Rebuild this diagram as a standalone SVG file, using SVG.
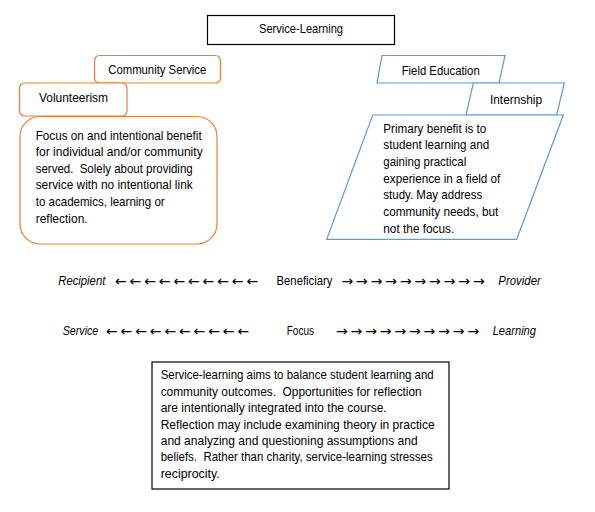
<svg xmlns="http://www.w3.org/2000/svg" width="595" height="512" viewBox="0 0 595 512">
<style>
text{font-family:"Liberation Sans","DejaVu Sans",sans-serif;font-size:12.1px;fill:#000}
.c{text-anchor:middle}
.i{font-style:italic}
.orange{fill:#fff;stroke:#ED7D31;stroke-width:1.2}
.blue{fill:#fff;stroke:#5B9BD5;stroke-width:1.2}
.black{fill:#fff;stroke:#000;stroke-width:1.2}
.arr{font-family:"DejaVu Sans","Liberation Sans",sans-serif;font-size:14px}
</style>
<rect width="595" height="512" fill="#fff"/>
<g id="service-learning">
<rect class="black" x="207.5" y="15.5" width="187" height="29"/>
<text class="c" x="301" y="32.6" textLength="84" lengthAdjust="spacingAndGlyphs">Service-Learning</text>
</g>
<g id="community-service">
<rect class="orange" x="94.5" y="55.5" width="126" height="27.5" rx="5"/>
<text x="108.3" y="74.3" textLength="98" lengthAdjust="spacingAndGlyphs">Community Service</text>
</g>
<g id="volunteerism">
<rect class="orange" x="19.5" y="83" width="107.5" height="33" rx="5"/>
<text x="39" y="101.6" textLength="69" lengthAdjust="spacingAndGlyphs">Volunteerism</text>
</g>
<g id="volunteerism-desc">
<rect class="orange" x="20" y="116.5" width="197" height="127.5" rx="20"/>
<text x="35.7" y="139.5" textLength="166" lengthAdjust="spacingAndGlyphs">Focus on and intentional benefit</text>
<text x="35.7" y="156.1" textLength="167" lengthAdjust="spacingAndGlyphs">for individual and/or community</text>
<text x="35.7" y="172.7" textLength="157" lengthAdjust="spacingAndGlyphs" xml:space="preserve">served.  Solely about providing</text>
<text x="35.7" y="189.3" textLength="157" lengthAdjust="spacingAndGlyphs">service with no intentional link</text>
<text x="35.7" y="205.9" textLength="129" lengthAdjust="spacingAndGlyphs">to academics, learning or</text>
<text x="35.7" y="222.5" textLength="52" lengthAdjust="spacingAndGlyphs">reflection.</text>
</g>
<g id="field-education">
<polygon class="blue" points="382,55.5 505,55.5 499,83 377,83"/>
<text x="401.7" y="75.3" textLength="78" lengthAdjust="spacingAndGlyphs">Field Education</text>
</g>
<g id="internship">
<polygon class="blue" points="473.3,83 564.3,83 556.7,115 466,115"/>
<text x="490" y="104.3" textLength="52" lengthAdjust="spacingAndGlyphs">Internship</text>
</g>
<g id="internship-desc">
<polygon class="blue" points="372.7,115 563.3,115 516.7,239.3 326.7,239.3"/>
<text x="383.3" y="132.6" textLength="103" lengthAdjust="spacingAndGlyphs">Primary benefit is to</text>
<text x="383.3" y="149.3" textLength="106" lengthAdjust="spacingAndGlyphs">student learning and</text>
<text x="383.3" y="165.9" textLength="83" lengthAdjust="spacingAndGlyphs">gaining practical</text>
<text x="383.3" y="182.6" textLength="117" lengthAdjust="spacingAndGlyphs">experience in a field of</text>
<text x="383.3" y="199.2" textLength="99" lengthAdjust="spacingAndGlyphs">study. May address</text>
<text x="383.3" y="215.9" textLength="115" lengthAdjust="spacingAndGlyphs">community needs, but</text>
<text x="383.3" y="232.5" textLength="71" lengthAdjust="spacingAndGlyphs">not the focus.</text>
</g>
<g id="scales">
<text class="i" x="58.3" y="285" textLength="47" lengthAdjust="spacingAndGlyphs">Recipient</text>
<text class="arr" x="115 129.6 144.2 158.8 173.4 188 202.6 217.2 231.8 246.4" y="285.5">←←←←←←←←←←</text>
<text x="276.5" y="285" textLength="56" lengthAdjust="spacingAndGlyphs">Beneficiary</text>
<text class="arr" x="341.5 356.1 370.7 385.3 399.9 414.5 429.1 443.7 458.3 472.9" y="285.5">→→→→→→→→→→</text>
<text class="i" x="498.3" y="285" textLength="42.5" lengthAdjust="spacingAndGlyphs">Provider</text>
<text class="i" x="62.7" y="335.3" textLength="35.6" lengthAdjust="spacingAndGlyphs">Service</text>
<text class="arr" x="106 120.6 135.2 149.8 164.4 179 193.6 208.2 222.8 237.4" y="335.8">←←←←←←←←←←</text>
<text x="286.7" y="335.3" textLength="27.3" lengthAdjust="spacingAndGlyphs">Focus</text>
<text class="arr" x="336 350.6 365.2 379.8 394.4 409 423.6 438.2 452.8 467.4" y="335.8">→→→→→→→→→→</text>
<text class="i" x="492.7" y="335.3" textLength="43.3" lengthAdjust="spacingAndGlyphs">Learning</text>
</g>
<g id="summary">
<rect class="black" x="152" y="362" width="297" height="127"/>
<text x="160.7" y="379.3" textLength="273" lengthAdjust="spacingAndGlyphs">Service-learning aims to balance student learning and</text>
<text x="160.7" y="395.7" textLength="261" lengthAdjust="spacingAndGlyphs" xml:space="preserve">community outcomes.  Opportunities for reflection</text>
<text x="160.7" y="412.1" textLength="226" lengthAdjust="spacingAndGlyphs">are intentionally integrated into the course.</text>
<text x="160.7" y="428.5" textLength="274" lengthAdjust="spacingAndGlyphs">Reflection may include examining theory in practice</text>
<text x="160.7" y="444.9" textLength="257" lengthAdjust="spacingAndGlyphs">and analyzing and questioning assumptions and</text>
<text x="160.7" y="461.3" textLength="272" lengthAdjust="spacingAndGlyphs" xml:space="preserve">beliefs.  Rather than charity, service-learning stresses</text>
<text x="160.7" y="477.7" textLength="59" lengthAdjust="spacingAndGlyphs">reciprocity.</text>
</g>
</svg>
